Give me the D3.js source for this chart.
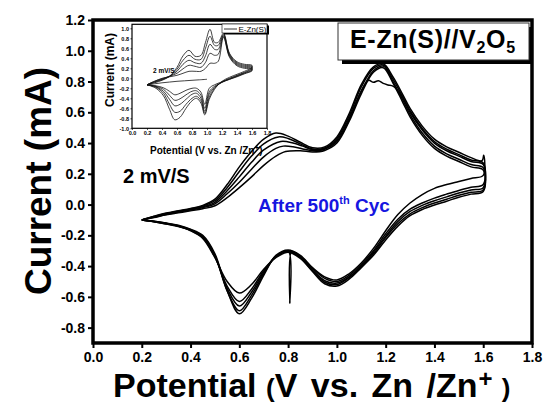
<!DOCTYPE html>
<html>
<head>
<meta charset="utf-8">
<script src="https://cdn.jsdelivr.net/npm/d3@7"></script>
<style>
  html, body { margin: 0; padding: 0; background: #fff; }
  svg { display: block; font-family: "Liberation Sans", Arial, sans-serif; }
</style>
</head>
<body>
<svg id="chart" width="546" height="414"></svg>
<script>
// ---- Axis ticks ----
const xTicks = [0.0, 0.2, 0.4, 0.6, 0.8, 1.0, 1.2, 1.4, 1.6, 1.8];
const yTicks = [-0.8, -0.6, -0.4, -0.2, 0.0, 0.2, 0.4, 0.6, 0.8, 1.0, 1.2];
const insetXTicks = [0.0, 0.2, 0.4, 0.6, 0.8, 1.0, 1.2, 1.4, 1.6, 1.8];
const insetYTicks = [-1.0, -0.8, -0.6, -0.4, -0.2, 0.0, 0.2, 0.4, 0.6, 0.8, 1.0];

// ---- Main CV cycles after 500 cycles: [potential (V), current (mA)] ----
const cycleA = [
  [0.20,-0.100],[0.25,-0.075],[0.30,-0.055],[0.35,-0.040],[0.40,-0.025],[0.45,-0.005],[0.50,0.035],
  [0.55,0.130],[0.60,0.245],[0.65,0.345],[0.70,0.425],[0.75,0.465],[0.80,0.445],[0.85,0.405],
  [0.90,0.370],[0.95,0.375],[1.00,0.440],[1.05,0.590],[1.10,0.780],[1.15,0.895],[1.19,0.915],
  [1.23,0.830],[1.27,0.715],[1.30,0.625],[1.35,0.510],[1.40,0.425],[1.45,0.375],[1.50,0.340],
  [1.55,0.305],[1.595,0.285],[1.602,0.320],[1.600,0.190],
  [1.55,0.170],[1.50,0.150],[1.45,0.130],[1.40,0.105],[1.35,0.065],[1.30,0.010],[1.25,-0.065],
  [1.20,-0.170],[1.15,-0.285],[1.10,-0.380],[1.05,-0.450],[1.00,-0.490],[0.95,-0.470],[0.90,-0.410],
  [0.85,-0.330],[0.80,-0.295],[0.75,-0.330],[0.70,-0.460],[0.65,-0.610],[0.60,-0.710],[0.55,-0.560],
  [0.50,-0.320],[0.45,-0.200],[0.40,-0.160],[0.35,-0.135],[0.30,-0.120],[0.25,-0.108],[0.20,-0.100]
];
const cycleB = [
  [0.20,-0.100],[0.25,-0.078],[0.30,-0.058],[0.35,-0.043],[0.40,-0.028],[0.45,-0.010],[0.50,0.025],
  [0.55,0.110],[0.60,0.215],[0.65,0.315],[0.70,0.395],[0.76,0.440],[0.80,0.430],[0.85,0.395],
  [0.90,0.362],[0.95,0.368],[1.00,0.430],[1.05,0.575],[1.10,0.765],[1.15,0.885],[1.19,0.908],
  [1.23,0.815],[1.27,0.700],[1.30,0.610],[1.35,0.495],[1.40,0.410],[1.45,0.360],[1.50,0.325],
  [1.55,0.290],[1.60,0.270],[1.60,0.130],
  [1.55,0.112],[1.50,0.092],[1.45,0.068],[1.40,0.042],[1.35,0.010],[1.30,-0.030],[1.25,-0.095],
  [1.20,-0.190],[1.15,-0.300],[1.10,-0.390],[1.05,-0.460],[1.00,-0.500],[0.95,-0.480],[0.90,-0.415],
  [0.85,-0.335],[0.80,-0.300],[0.75,-0.335],[0.70,-0.450],[0.65,-0.590],[0.60,-0.690],[0.55,-0.560],
  [0.50,-0.330],[0.45,-0.205],[0.40,-0.163],[0.35,-0.137],[0.30,-0.121],[0.25,-0.109],[0.20,-0.100]
];
const cycleC = [
  [0.20,-0.100],[0.25,-0.080],[0.30,-0.061],[0.35,-0.046],[0.40,-0.032],[0.45,-0.015],[0.50,0.015],
  [0.55,0.090],[0.60,0.180],[0.65,0.275],[0.70,0.355],[0.77,0.410],[0.82,0.400],[0.86,0.380],
  [0.90,0.358],[0.95,0.365],[1.00,0.420],[1.05,0.560],[1.10,0.740],[1.13,0.808],[1.15,0.795],
  [1.17,0.805],[1.19,0.788],[1.21,0.778],[1.23,0.770],[1.26,0.720],[1.30,0.600],[1.35,0.485],
  [1.40,0.400],[1.45,0.350],[1.50,0.315],[1.55,0.280],[1.60,0.260],[1.60,0.110],
  [1.55,0.095],[1.50,0.075],[1.45,0.050],[1.40,0.025],[1.35,-0.005],[1.30,-0.045],[1.25,-0.110],
  [1.20,-0.205],[1.15,-0.310],[1.10,-0.400],[1.05,-0.470],[1.00,-0.510],[0.95,-0.495],[0.90,-0.425],
  [0.85,-0.340],[0.815,-0.305],[0.807,-0.640],[0.801,-0.305],[0.75,-0.335],[0.70,-0.440],
  [0.65,-0.570],[0.60,-0.660],[0.55,-0.545],[0.50,-0.335],[0.45,-0.210],[0.40,-0.166],
  [0.35,-0.139],[0.30,-0.123],[0.25,-0.110],[0.20,-0.100]
];
const cycleD = [
  [0.20,-0.100],[0.25,-0.082],[0.30,-0.064],[0.35,-0.050],[0.40,-0.036],[0.45,-0.020],[0.50,0.005],
  [0.55,0.070],[0.60,0.145],[0.65,0.230],[0.70,0.310],[0.75,0.365],[0.78,0.380],[0.82,0.376],
  [0.86,0.362],[0.90,0.350],[0.95,0.360],[1.00,0.410],[1.05,0.550],[1.10,0.735],[1.15,0.870],
  [1.19,0.900],[1.23,0.800],[1.27,0.680],[1.30,0.585],[1.35,0.465],[1.40,0.380],[1.45,0.330],
  [1.50,0.295],[1.55,0.260],[1.60,0.240],[1.60,0.095],
  [1.55,0.080],[1.50,0.060],[1.45,0.035],[1.40,0.010],[1.35,-0.020],[1.30,-0.060],[1.25,-0.125],
  [1.20,-0.215],[1.15,-0.320],[1.10,-0.405],[1.05,-0.475],[1.00,-0.520],[0.95,-0.505],[0.90,-0.430],
  [0.85,-0.345],[0.80,-0.305],[0.75,-0.340],[0.70,-0.430],[0.65,-0.550],[0.60,-0.630],[0.55,-0.530],
  [0.50,-0.340],[0.45,-0.215],[0.40,-0.168],[0.35,-0.141],[0.30,-0.125],[0.25,-0.111],[0.20,-0.100]
];
const cycleE = [
  [0.20,-0.100],[0.25,-0.084],[0.30,-0.067],[0.35,-0.054],[0.40,-0.041],[0.45,-0.027],[0.50,-0.008],
  [0.55,0.045],[0.60,0.110],[0.65,0.180],[0.70,0.255],[0.75,0.315],[0.79,0.345],[0.85,0.350],
  [0.90,0.342],[0.95,0.352],[1.00,0.400],[1.05,0.540],[1.10,0.720],[1.15,0.860],[1.19,0.890],
  [1.23,0.790],[1.27,0.665],[1.30,0.570],[1.35,0.450],[1.40,0.365],[1.45,0.315],[1.50,0.280],
  [1.55,0.245],[1.60,0.225],[1.60,0.085],
  [1.55,0.068],[1.50,0.048],[1.45,0.022],[1.40,-0.003],[1.35,-0.032],[1.30,-0.072],[1.25,-0.140],
  [1.20,-0.230],[1.15,-0.330],[1.10,-0.410],[1.05,-0.485],[1.00,-0.530],[0.95,-0.515],[0.90,-0.435],
  [0.85,-0.350],[0.80,-0.310],[0.75,-0.345],[0.70,-0.420],[0.65,-0.520],[0.60,-0.575],[0.55,-0.500],
  [0.50,-0.345],[0.45,-0.220],[0.40,-0.170],[0.35,-0.143],[0.30,-0.127],[0.25,-0.112],[0.20,-0.100]
];
const mainCycles = [cycleA, cycleB, cycleC, cycleD, cycleE];

// ---- Inset: CVs at several scan rates (shared potential grids) ----
const insetAnodicV   = [0.20,0.30,0.40,0.50,0.60,0.68,0.76,0.84,0.92,0.98,1.04,1.10,1.15,1.22,1.30,1.40,1.50,1.60];
const insetCathodicV = [1.60,1.50,1.40,1.30,1.20,1.10,1.03,0.97,0.92,0.86,0.80,0.72,0.64,0.57,0.50,0.42,0.32,0.20];
const insetRate1Anodic   = [-0.13,-0.09,-0.04,0.04,0.22,0.45,0.56,0.44,0.46,0.72,0.98,0.72,0.72,0.90,0.50,0.33,0.28,0.26];
const insetRate1Cathodic = [0.22,0.14,0.08,0.02,-0.06,-0.22,-0.42,-0.73,-0.50,-0.40,-0.45,-0.60,-0.78,-0.83,-0.62,-0.35,-0.20,-0.13];
const insetRate2Anodic   = [-0.13,-0.08,-0.03,0.04,0.18,0.36,0.46,0.38,0.38,0.60,0.84,0.66,0.66,0.88,0.48,0.31,0.26,0.24];
const insetRate2Cathodic = [0.20,0.12,0.06,0.00,-0.07,-0.20,-0.38,-0.70,-0.45,-0.36,-0.40,-0.52,-0.66,-0.68,-0.52,-0.30,-0.18,-0.13];
const insetRate3Anodic   = [-0.13,-0.07,-0.02,0.04,0.14,0.28,0.36,0.31,0.30,0.45,0.68,0.58,0.58,0.86,0.46,0.29,0.24,0.22];
const insetRate3Cathodic = [0.18,0.11,0.05,-0.01,-0.08,-0.18,-0.32,-0.66,-0.40,-0.30,-0.32,-0.42,-0.52,-0.55,-0.42,-0.26,-0.17,-0.13];
const insetRate4Anodic   = [-0.13,-0.06,-0.01,0.04,0.10,0.19,0.26,0.24,0.22,0.32,0.50,0.46,0.48,0.84,0.44,0.27,0.22,0.20];
const insetRate4Cathodic = [0.16,0.10,0.04,-0.02,-0.08,-0.16,-0.27,-0.60,-0.34,-0.25,-0.26,-0.33,-0.41,-0.44,-0.34,-0.22,-0.16,-0.13];
const insetRate5Anodic   = [-0.13,-0.06,0.00,0.03,0.06,0.10,0.14,0.14,0.14,0.20,0.30,0.30,0.34,0.82,0.42,0.25,0.20,0.18];
const insetRate5Cathodic = [0.15,0.09,0.03,-0.02,-0.07,-0.13,-0.20,-0.52,-0.28,-0.20,-0.20,-0.24,-0.30,-0.33,-0.26,-0.19,-0.15,-0.13];
const insetTraceV = [0.20,0.30,0.40,0.50,0.60,0.70,0.80,0.90,1.00];
const insetTraceI = [-0.13,-0.11,-0.09,-0.075,-0.06,-0.05,-0.04,-0.03,-0.02];

const FONT = '"Liberation Sans", Arial, sans-serif';
const svg = d3.select("#chart");
svg.append("rect").attr("width", 546).attr("height", 414).attr("fill", "#fff");

// ---- Main scales ----
const x = d3.scaleLinear().domain([0, 1.8]).range([93, 532]);
const y = d3.scaleLinear().domain([-0.9, 1.2]).range([343, 20]);
const fmt = d => d.toFixed(1);

const gx = svg.append("g").attr("transform", "translate(0,343)")
  .call(d3.axisBottom(x).tickValues(xTicks).tickFormat(fmt).tickSize(5).tickPadding(4));
const gy = svg.append("g").attr("transform", "translate(93,0)")
  .call(d3.axisLeft(y).tickValues(yTicks).tickFormat(fmt).tickSize(5).tickPadding(3));
[gx, gy].forEach(g => {
  g.select(".domain").remove();
  g.attr("font-family", FONT).attr("font-size", 14).attr("font-weight", "bold");
  g.selectAll(".tick line").attr("stroke", "#000").attr("stroke-width", 2);
  g.selectAll(".tick text").attr("fill", "#000");
});

// Main curves
const line = d3.line().x(d => x(d[0])).y(d => y(d[1])).curve(d3.curveCatmullRom.alpha(0.5));
svg.append("g").selectAll("path").data(mainCycles).join("path")
  .attr("d", line).attr("fill", "none").attr("stroke", "#000")
  .attr("stroke-width", 1.5).attr("stroke-linejoin", "round");

// Frame
svg.append("rect").attr("x", 93).attr("y", 20).attr("width", 439).attr("height", 323)
  .attr("fill", "none").attr("stroke", "#000").attr("stroke-width", 3.5);

// Axis titles
svg.append("text").attr("transform", "translate(51,181) rotate(-90)")
  .attr("text-anchor", "middle").attr("font-family", FONT).attr("font-weight", "bold")
  .attr("font-size", 37).text("Current (mA)");

const xt = svg.append("text").attr("x", 113).attr("y", 397)
  .attr("font-family", FONT).attr("font-weight", "bold").attr("font-size", 34);
xt.append("tspan").text("Potential ");
xt.append("tspan").attr("font-size", 26).text("(");
xt.append("tspan").attr("word-spacing", 4).text("V vs. Zn /Zn");
xt.append("tspan").attr("font-size", 24).attr("dy", -10).attr("dx", 1).text("+");
xt.append("tspan").attr("font-size", 26).attr("dy", 10).attr("dx", 2).text(" )");

// Annotations
svg.append("text").attr("x", 123).attr("y", 183).attr("font-family", FONT)
  .attr("font-weight", "bold").attr("font-size", 20).text("2 mV/S");
const ann = svg.append("text").attr("x", 258).attr("y", 212).attr("font-family", FONT)
  .attr("font-weight", "bold").attr("font-size", 19).attr("fill", "#1616e0");
ann.append("tspan").text("After 500");
ann.append("tspan").attr("font-size", 11).attr("dy", -8).text("th");
ann.append("tspan").attr("dy", 8).text(" Cyc");

// Legend box with shadow
svg.append("rect").attr("x", 342).attr("y", 27).attr("width", 191).attr("height", 37).attr("fill", "#000");
svg.append("rect").attr("x", 338).attr("y", 23).attr("width", 191).attr("height", 37)
  .attr("fill", "#fff").attr("stroke", "#333").attr("stroke-width", 1);
const leg = svg.append("text").attr("x", 350).attr("y", 48).attr("font-family", FONT)
  .attr("font-weight", "bold").attr("font-size", 25).attr("letter-spacing", 0.7);
leg.append("tspan").text("E-Zn(S)//V");
leg.append("tspan").attr("font-size", 16).attr("dy", 5).text("2");
leg.append("tspan").attr("dy", -5).text("O");
leg.append("tspan").attr("font-size", 16).attr("dy", 5).text("5");

// ---- Inset ----
const ix = d3.scaleLinear().domain([0, 1.8]).range([132, 267]);
const iy = d3.scaleLinear().domain([-1.0, 1.08]).range([128.3, 24.3]);
const inset = svg.append("g");
inset.append("rect").attr("x", 132).attr("y", 24.3).attr("width", 135).attr("height", 104)
  .attr("fill", "#fff");

const igx = inset.append("g").attr("transform", "translate(0,128.3)")
  .call(d3.axisBottom(ix).tickValues(insetXTicks).tickFormat(fmt).tickSize(1.5).tickPadding(1.5));
const igy = inset.append("g").attr("transform", "translate(132,0)")
  .call(d3.axisLeft(iy).tickValues(insetYTicks).tickFormat(fmt).tickSize(1.5).tickPadding(1.5));
[igx, igy].forEach(g => {
  g.select(".domain").remove();
  g.attr("font-family", FONT).attr("font-size", 5.5).attr("font-weight", "bold");
  g.selectAll(".tick line").attr("stroke", "#000").attr("stroke-width", 0.8);
  g.selectAll(".tick text").attr("fill", "#000");
});

const iline = d3.line().x(d => ix(d[0])).y(d => iy(d[1])).curve(d3.curveCatmullRom.alpha(0.5));
const insetCurves = [
  [insetRate1Anodic, insetRate1Cathodic],
  [insetRate2Anodic, insetRate2Cathodic],
  [insetRate3Anodic, insetRate3Cathodic],
  [insetRate4Anodic, insetRate4Cathodic],
  [insetRate5Anodic, insetRate5Cathodic]
].map(([a, c]) => insetAnodicV.map((v, i) => [v, a[i]]).concat(insetCathodicV.map((v, i) => [v, c[i]])));
insetCurves.push(insetTraceV.map((v, i) => [v, insetTraceI[i]]));
inset.append("g").selectAll("path").data(insetCurves).join("path")
  .attr("d", iline).attr("fill", "none").attr("stroke", "#111").attr("stroke-width", 0.8);

inset.append("rect").attr("x", 132).attr("y", 24.3).attr("width", 135).attr("height", 104)
  .attr("fill", "none").attr("stroke", "#000").attr("stroke-width", 1.2);

// Inset legend
inset.append("rect").attr("x", 224).attr("y", 25.5).attr("width", 45).attr("height", 9).attr("fill", "#000");
inset.append("rect").attr("x", 222).attr("y", 24).attr("width", 45).attr("height", 9)
  .attr("fill", "#fff").attr("stroke", "#000").attr("stroke-width", 0.6);
inset.append("line").attr("x1", 224).attr("x2", 237).attr("y1", 29).attr("y2", 29)
  .attr("stroke", "#000").attr("stroke-width", 0.8);
inset.append("text").attr("x", 238.5).attr("y", 31.8).attr("font-family", FONT)
  .attr("font-size", 8).text("E-Zn(S)");

inset.append("text").attr("x", 153).attr("y", 73).attr("font-family", FONT)
  .attr("font-weight", "bold").attr("font-size", 6.5).text("2 mV/S");

inset.append("text").attr("transform", "translate(114,70) rotate(-90)")
  .attr("text-anchor", "middle").attr("font-family", FONT).attr("font-weight", "bold")
  .attr("font-size", 12).text("Current (mA)");
const ixt = inset.append("text").attr("x", 150).attr("y", 154).attr("font-family", FONT)
  .attr("font-weight", "bold").attr("font-size", 10);
ixt.append("tspan").text("Potential (V vs. Zn /Zn");
ixt.append("tspan").attr("font-size", 8).attr("dy", -4).text("+");
ixt.append("tspan").attr("dy", 4).text(")");
</script>
</body>
</html>
